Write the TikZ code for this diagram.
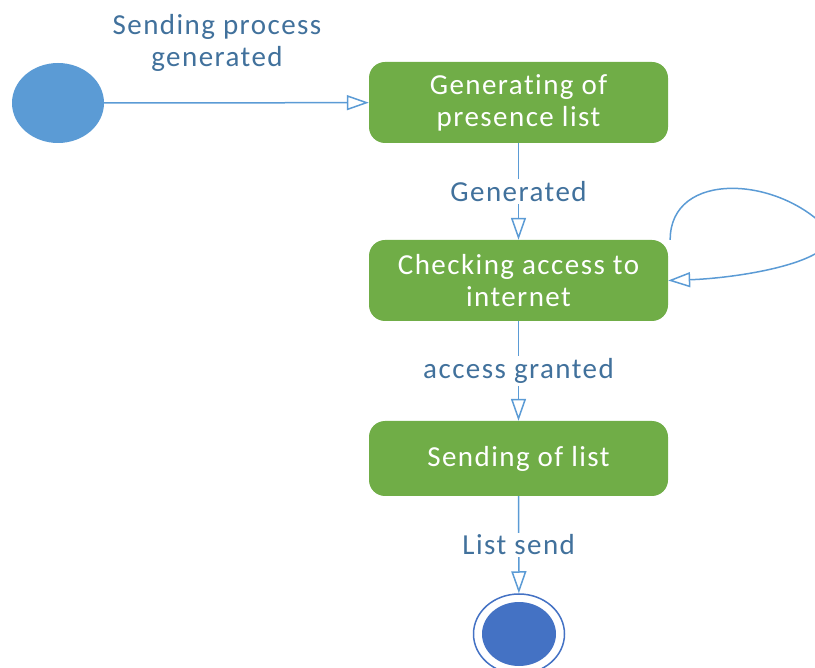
\documentclass[tikz,border=0pt]{standalone}
\usepackage{fontspec}
\setmainfont{Carlito}[LetterSpace=5, Ligatures={NoCommon}]
\usetikzlibrary{arrows.meta,shapes.geometric}
\definecolor{flowblue}{HTML}{5B9BD5}
\definecolor{labelblue}{HTML}{41719C}
\definecolor{stategreen}{HTML}{70AD47}
\definecolor{enddark}{HTML}{4472C4}
\begin{document}
\begin{tikzpicture}[x=1pt,y=-1pt,
  every node/.style={font=\fontsize{29}{32}\selectfont},
  state/.style={rectangle, rounded corners=16pt, fill=stategreen, text=white,
    minimum width=299pt, inner sep=0pt, align=center},
  flow/.style={draw=flowblue, line width=1.5pt,
    -{Triangle[open, length=22pt, width=15pt, line width=1.5pt]}},
  lbl/.style={fill=white, text=labelblue, inner sep=2pt, align=center}]
  \useasboundingbox (0,0) rectangle (815,668);

  % initial and final states
  \node[ellipse, fill=flowblue, minimum width=92pt, minimum height=80pt, inner sep=0pt] (start) at (58,103) {};
  \node[ellipse, draw=enddark, line width=1.5pt, minimum width=91pt, minimum height=80pt, inner sep=0pt] (stop) at (519,634) {};
  \node[ellipse, fill=enddark, minimum width=74pt, minimum height=64pt, inner sep=0pt] (stopin) at (519,634) {};

  % activity states
  \node[state, minimum height=81pt] (b1) at (518.5,102.5) {Generating of\\presence list};
  \node[state, minimum height=81pt] (b2) at (518.5,280.5) {Checking access to\\internet};
  \node[state, minimum height=75pt] (b3) at (518.5,458.5) {Sending of list};

  % transitions
  \draw[flow] (start) -- (b1);
  \node[lbl] (l0) at (217,43) {Sending process\\generated};
  \draw[flow] (b1) -- node[lbl] (l1) {Generated} (b2);
  \draw[flow] (b2) -- node[lbl] (l2) {access granted} (b3);
  \draw[flow] (b3) -- node[lbl] (l3) {List send} (stop);

  % self-loop on the connectivity check
  \begin{scope}
    \clip (0,0) rectangle (815,668);
    \draw[flow] ([xshift=2pt]b2.north east)
      .. controls (670,170) and (780,175) .. (830,232)
      .. controls (838,262) and (740,278) .. (b2.east);
  \end{scope}
\end{tikzpicture}
\end{document}
